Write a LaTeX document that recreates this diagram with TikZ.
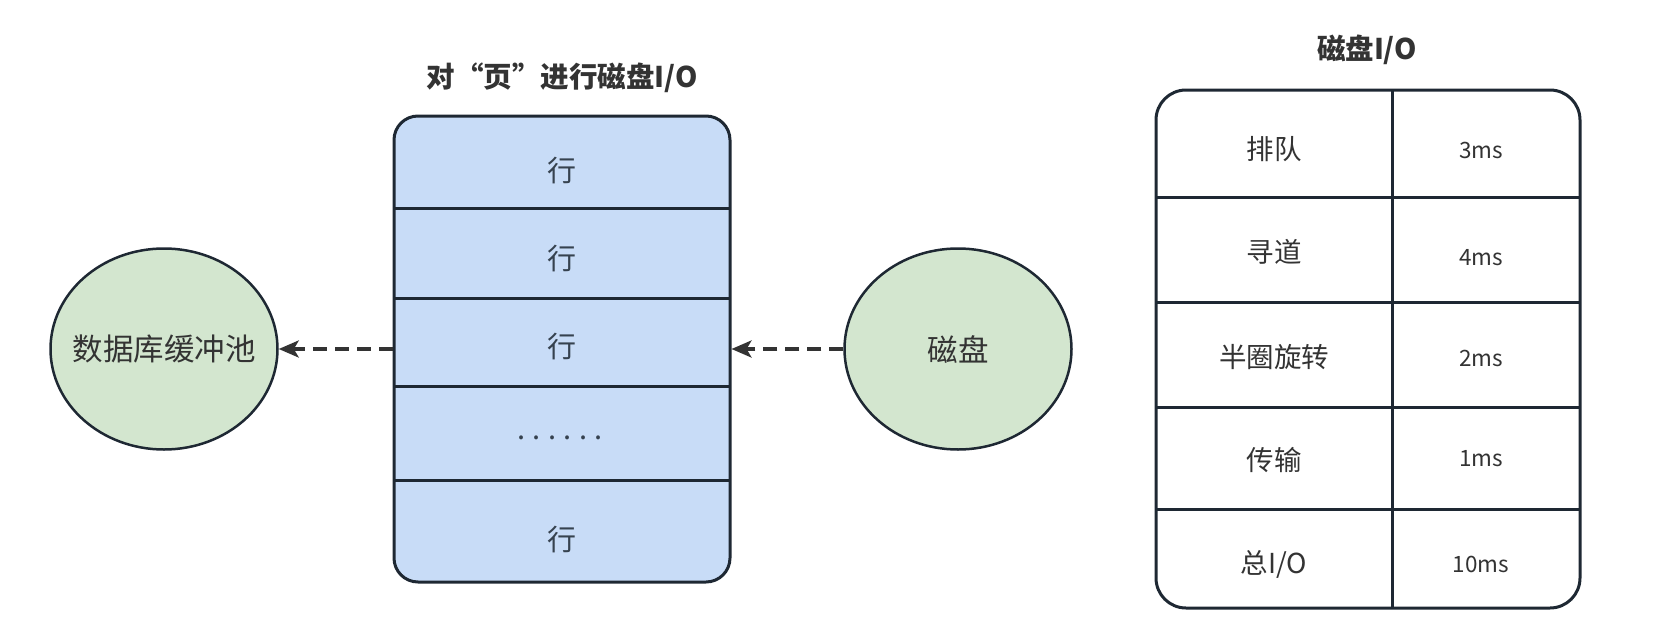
\documentclass[tikz,border=0pt]{standalone}
\usepackage{fontspec}
\setmainfont{Noto Sans CJK SC}
\usetikzlibrary{arrows.meta,shapes.geometric}
\definecolor{pageblue}{HTML}{C8DCF7}
\definecolor{poolgreen}{HTML}{D3E6CF}
\definecolor{edge}{HTML}{1E2833}
\definecolor{txt}{HTML}{333333}
\definecolor{rowtxt}{HTML}{36424F}
\tikzset{
  ell/.style={ellipse, draw=edge, line width=2.5pt, fill=poolgreen, minimum width=227pt, minimum height=201pt, inner sep=0pt},
  elltext/.style={text=txt, font=\fontsize{30.5}{32}\selectfont, inner sep=0pt},
  pagebox/.style={draw=edge, line width=3pt, fill=pageblue, rounded corners=24pt, minimum width=336pt, minimum height=466pt, inner sep=0pt},
  tblbox/.style={draw=edge, line width=3pt, rounded corners=30pt, minimum width=424pt, minimum height=518pt, inner sep=0pt},
  divider/.style={draw=edge, line width=3pt},
  rowtext/.style={text=rowtxt, font=\fontsize{29}{31}\selectfont},
  celltext/.style={text=txt, font=\fontsize{27.5}{29}\selectfont},
  numtext/.style={text=txt, font=\fontsize{22.5}{24}\selectfont},
  titletext/.style={text=txt, font=\fontsize{28.5}{30}\selectfont\bfseries},
  dasharrow/.style={draw=txt, line width=3.5pt, dash pattern=on 14pt off 8pt, -{Stealth[length=20pt,width=17pt,inset=5pt]}},
}
\begin{document}
\begin{tikzpicture}[x=1pt,y=-1pt]
\useasboundingbox (0,0) rectangle (1655,640);
% page box
\node[titletext] (ptitle) at (562,78) {对“页”进行磁盘I/O};
\node[pagebox] (page) at (562,349) {};
\foreach \y in {208,298,386,480} \draw[divider] (394,\y) -- (730,\y);
\node[rowtext] (r1) at (562,171) {行};
\node[rowtext] (r2) at (562,259) {行};
\node[rowtext] (r3) at (562,347) {行};
\node[rowtext] (r4) at (560,438) {.\hspace{7.5pt}.\hspace{7.5pt}.\hspace{7.5pt}.\hspace{7.5pt}.\hspace{7.5pt}.};
\node[rowtext] (r5) at (562,540) {行};
% ellipses
\node[ell] (pool) at (164,349) {};
\node[elltext] (poollabel) at (pool.center) {数据库缓冲池};
\node[ell] (disk) at (958,349) {};
\node[elltext] (disklabel) at (disk.center) {磁盘};
\draw[dasharrow] (page.west) -- (pool.east);
\draw[dasharrow] (disk.west) -- (page.east);
% table
\node[titletext] (ttitle) at (1367,50) {磁盘I/O};
\node[tblbox] (tbl) at (1368,349) {};
\draw[divider] (1392,90) -- (1392,608);
\foreach \y in {197,302,407,509} \draw[divider] (1156,\y) -- (1580,\y);
\node[celltext] (c1) at (1274,149) {排队};
\node[celltext] (c2) at (1274,252) {寻道};
\node[celltext] (c3) at (1274,357) {半圈旋转};
\node[celltext] (c4) at (1274,460) {传输};
\node[celltext] (c5) at (1274,564) {总I/O};
\node[numtext] (v1) at (1481,150) {3ms};
\node[numtext] (v2) at (1481,258) {4ms};
\node[numtext] (v3) at (1481,358) {2ms};
\node[numtext] (v4) at (1481,459) {1ms};
\node[numtext] (v5) at (1481,564) {10ms};
\end{tikzpicture}
\end{document}
